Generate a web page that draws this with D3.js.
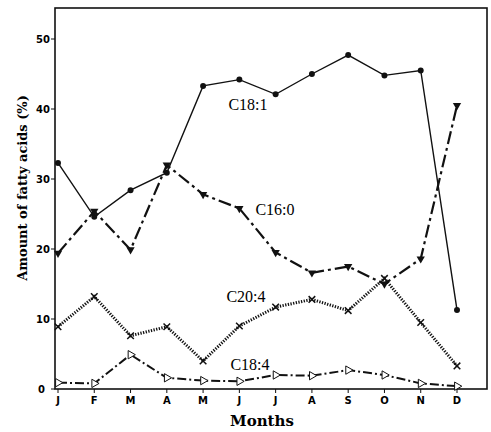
<!DOCTYPE html>
<html>
<head>
<meta charset="utf-8">
<script src="https://cdn.jsdelivr.net/npm/d3@7"></script>
<style>
  body { margin: 0; background: #fff; }
  svg { display: block; }
  .tick-label { font-family: "DejaVu Sans", sans-serif; font-weight: bold; font-size: 10px; }
  .title { font-family: "DejaVu Serif", serif; font-weight: bold; font-size: 13px; }
  .months { font-family: "DejaVu Serif", serif; font-weight: bold; font-size: 15px; }
  .series-label { font-family: "Liberation Serif", serif; font-size: 16px; }
</style>
</head>
<body>
<div id="chart"></div>
<script>
const months = ["J", "F", "M", "A", "M", "J", "J", "A", "S", "O", "N", "D"];
const yTicks = [0, 10, 20, 30, 40, 50];

const c181 = [32.3, 24.6, 28.4, 30.9, 43.3, 44.2, 42.1, 45.0, 47.7, 44.8, 45.5, 11.3];
const c160 = [19.4, 25.4, 19.9, 32.0, 27.8, 25.8, 19.5, 16.6, 17.5, 15.0, 18.6, 40.5];
const c204 = [8.9, 13.2, 7.6, 8.9, 4.0, 9.0, 11.7, 12.8, 11.2, 15.8, 9.5, 3.3];
const c184 = [0.9, 0.8, 4.9, 1.6, 1.2, 1.1, 2.0, 1.9, 2.7, 2.0, 0.8, 0.4];

const series = [
  { name: "C18:1", values: c181, dash: null, width: 1.4, symbol: "dot", label: [248, 110] },
  { name: "C16:0", values: c160, dash: "13,4,3,4", width: 2.2, symbol: "tri", label: [275, 215] },
  { name: "C20:4", values: c204, dash: "1.3,1.4", width: 3, symbol: "cross", label: [246, 302] },
  { name: "C18:4", values: c184, dash: "9,3,2,3", width: 2, symbol: "open", label: [250, 370] },
];

const width = 491, height = 432;
const margin = { top: 8, right: 4, bottom: 43, left: 55 };

const svg = d3.select("#chart").append("svg")
  .attr("width", width)
  .attr("height", height);

const x = d3.scalePoint()
  .domain(d3.range(months.length))
  .range([58, 457]);

const y = d3.scaleLinear()
  .domain([0, 50])
  .range([389, 39]);

// frame
svg.append("rect")
  .attr("x", margin.left)
  .attr("y", margin.top)
  .attr("width", width - margin.right - margin.left)
  .attr("height", y(0) - margin.top)
  .attr("fill", "none")
  .attr("stroke", "#111")
  .attr("stroke-width", 1.6);

// x axis
const gx = svg.append("g").attr("transform", `translate(0,${y(0)})`);
gx.selectAll("line")
  .data(months)
  .join("line")
  .attr("x1", (d, i) => x(i))
  .attr("x2", (d, i) => x(i))
  .attr("y1", 0)
  .attr("y2", 4)
  .attr("stroke", "#111");
gx.selectAll("text")
  .data(months)
  .join("text")
  .attr("class", "tick-label")
  .attr("x", (d, i) => x(i))
  .attr("y", 15)
  .attr("text-anchor", "middle")
  .text((d) => d);

// y axis
const gy = svg.append("g").attr("transform", `translate(${margin.left},0)`);
gy.selectAll("line")
  .data(yTicks)
  .join("line")
  .attr("x1", -4)
  .attr("x2", 0)
  .attr("y1", (d) => y(d))
  .attr("y2", (d) => y(d))
  .attr("stroke", "#111");
gy.selectAll("text")
  .data(yTicks)
  .join("text")
  .attr("class", "tick-label")
  .attr("x", (d) => (d === 0 ? -10 : -5))
  .attr("y", (d) => y(d))
  .attr("dy", "0.35em")
  .attr("text-anchor", "end")
  .text((d) => d);

// titles
svg.append("text")
  .attr("class", "title")
  .attr("transform", "translate(27,188) rotate(-90)")
  .attr("text-anchor", "middle")
  .text("Amount of fatty acids (%)");
svg.append("text")
  .attr("class", "months")
  .attr("x", 262)
  .attr("y", 426)
  .attr("text-anchor", "middle")
  .text("Months");

const line = d3.line()
  .x((d, i) => x(i))
  .y((d) => y(d));

const g = svg.append("g");
series.forEach((s) => {
  g.append("path")
    .datum(s.values)
    .attr("d", line)
    .attr("fill", "none")
    .attr("stroke", "#111")
    .attr("stroke-width", s.width)
    .attr("stroke-dasharray", s.dash);

  const pts = g.append("g")
    .selectAll("path")
    .data(s.values)
    .join("path")
    .attr("transform", (d, i) => `translate(${x(i)},${y(d)})`);

  if (s.symbol === "dot") {
    pts.attr("d", d3.symbol(d3.symbolCircle, 28)).attr("fill", "#111");
  } else if (s.symbol === "tri") {
    pts.attr("d", d3.symbol(d3.symbolTriangle, 30)).attr("fill", "#111")
      .attr("transform", (d, i) => `translate(${x(i)},${y(d)}) rotate(180)`);
  } else if (s.symbol === "cross") {
    pts.attr("d", d3.symbol(d3.symbolTimes, 30))
      .attr("fill", "none").attr("stroke", "#111").attr("stroke-width", 1.5);
  } else {
    pts.attr("d", d3.symbol(d3.symbolTriangle, 30))
      .attr("transform", (d, i) => `translate(${x(i)},${y(d)}) rotate(90)`)
      .attr("fill", "#fff").attr("stroke", "#111").attr("stroke-width", 1);
  }

  svg.append("text")
    .attr("class", "series-label")
    .attr("x", s.label[0])
    .attr("y", s.label[1])
    .attr("text-anchor", "middle")
    .text(s.name);
});
</script>
</body>
</html>
